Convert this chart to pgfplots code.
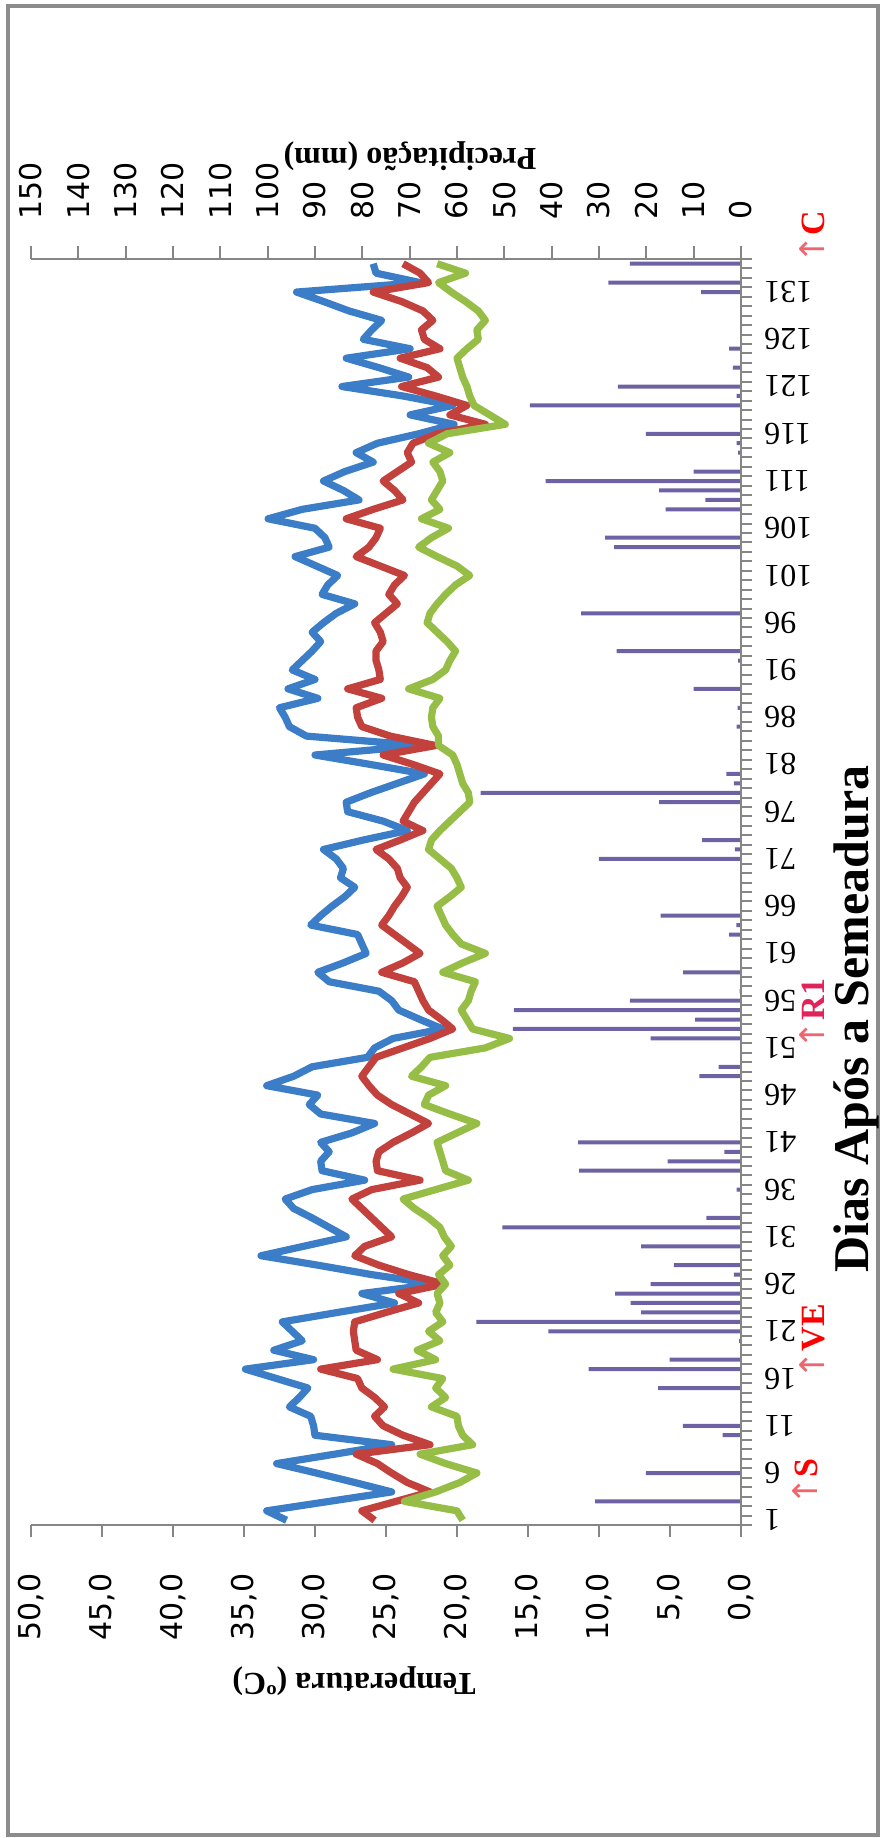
\documentclass[border=0pt]{standalone}
\usepackage{fontspec}
\setmainfont{Liberation Serif}
\newfontfamily\dejavu{DejaVu Sans}
\usepackage{pgfplots}
\usepackage{pgfplotstable}
\pgfplotsset{compat=1.18}
\definecolor{tmaxc}{RGB}{60,125,200}
\definecolor{tmeanc}{RGB}{195,65,60}
\definecolor{tminc}{RGB}{150,190,70}
\definecolor{rainc}{RGB}{110,98,165}
\definecolor{axisc}{RGB}{134,134,134}
\definecolor{framec}{RGB}{140,140,140}
\definecolor{arrowc}{RGB}{240,100,110}
\definecolor{r1c}{RGB}{225,35,90}

\pgfplotstableread{
day tmax tmean tmin
1 32.0 25.8 19.6
2 33.4 26.7 20.0
3 29.0 24.3 23.7
4 24.6 21.9 21.5
5 27.2 23.5 19.8
6 29.9 24.6 18.6
7 32.7 25.6 20.8
8 28.6 27.1 22.6
9 24.6 21.9 18.9
10 30.0 23.8 19.6
11 30.1 25.2 19.9
12 30.3 25.8 20.0
13 31.8 25.1 21.8
14 31.1 25.8 20.8
15 30.5 26.7 21.5
16 32.7 27.0 21.0
17 34.9 29.6 24.5
18 30.1 25.6 21.5
19 32.9 27.1 22.8
20 30.9 27.2 21.2
21 31.6 27.3 22.0
22 32.3 27.2 21.0
23 28.4 25.0 21.5
24 24.4 22.7 21.2
25 26.7 24.1 21.4
26 21.5 20.9 20.8
27 26.0 23.4 21.3
28 29.8 25.5 20.5
29 33.8 27.2 21.0
30 30.8 26.5 20.4
31 27.8 24.6 20.9
32 29.0 25.3 21.2
33 30.2 26.0 22.0
34 31.5 26.7 23.0
35 32.1 27.4 23.8
36 30.2 26.0 21.5
37 26.5 22.6 19.2
38 29.5 25.6 20.8
39 29.6 25.7 21.0
40 29.0 25.5 21.2
41 29.6 24.5 21.4
42 27.4 23.2 20.0
43 25.8 22.0 18.6
44 29.6 23.3 20.5
45 30.4 24.6 22.3
46 29.8 25.6 22.0
47 33.4 26.2 20.8
48 31.5 26.7 23.2
49 30.2 26.2 22.5
50 26.3 25.7 21.9
51 25.8 23.8 18.0
52 24.5 21.9 16.3
53 21.0 20.3 18.9
54 22.6 21.1 19.3
55 24.1 22.0 19.7
56 24.6 22.4 19.2
57 25.5 22.7 19.0
58 29.0 23.0 18.7
59 29.8 25.3 21.0
60 28.0 23.8 19.6
61 26.4 22.6 18.0
62 26.7 23.5 19.7
63 27.0 24.4 20.3
64 30.3 25.3 20.8
65 29.6 24.8 21.1
66 28.8 24.4 21.4
67 27.9 23.9 20.5
68 27.2 23.5 19.7
69 28.2 24.0 20.0
70 28.0 24.2 20.4
71 28.5 24.8 21.2
72 29.4 25.7 22.0
73 26.6 24.0 21.8
74 23.5 22.4 21.2
75 25.2 23.8 20.5
76 27.7 23.4 19.8
77 27.8 23.0 19.1
78 26.1 22.4 19.2
79 24.2 21.8 19.6
80 22.3 21.2 19.8
81 26.1 23.1 20.0
82 30.0 25.2 20.3
83 22.5 21.5 21.3
84 30.6 24.7 21.3
85 31.8 26.7 21.7
86 32.1 27.0 21.8
87 32.5 27.1 21.7
88 29.8 25.3 21.2
89 31.9 27.7 23.4
90 30.0 25.4 21.7
91 31.6 25.5 20.8
92 30.9 25.7 20.5
93 30.2 25.7 20.1
94 29.6 25.2 20.7
95 30.2 25.4 21.4
96 29.4 25.8 22.1
97 28.5 25.0 21.9
98 27.2 24.2 21.4
99 29.5 24.8 20.8
100 29.1 24.4 20.1
101 28.4 23.7 19.1
102 29.9 25.4 20.0
103 31.4 27.1 21.4
104 29.0 26.2 22.7
105 29.3 25.7 21.8
106 30.0 25.4 20.6
107 33.3 27.8 22.5
108 30.9 25.9 21.2
109 26.9 23.8 21.8
110 28.0 24.4 21.4
111 29.4 25.2 21.0
112 27.9 24.2 21.2
113 25.9 23.2 21.7
114 27.1 23.5 20.5
115 25.6 23.1 22.0
116 22.7 21.4 20.7
117 20.2 18.0 16.6
118 23.3 20.5 17.7
119 20.3 19.3 18.8
120 23.8 21.5 19.1
121 28.1 23.9 19.3
122 23.4 21.3 19.6
123 25.5 22.1 19.8
124 27.8 24.0 20.0
125 23.3 21.2 19.3
126 26.6 22.3 18.5
127 26.0 22.5 18.6
128 25.3 21.7 18.0
129 27.6 22.4 18.5
130 29.4 23.9 19.4
131 31.3 25.9 20.4
132 22.6 22.0 21.3
133 25.7 22.6 19.4
134 25.9 23.8 21.4
}\temps

\pgfplotstableread{
day p
3 30.8
6 20.1
10 3.9
11 12.3
15 17.5
17 32.2
18 15.1
20 0.4
21 40.7
22 55.9
23 21.1
24 23.3
25 26.6
26 19.1
27 1.5
28 14.2
30 21.1
32 50.4
33 7.3
36 0.9
38 34.2
39 15.5
40 3.5
41 34.4
48 8.8
49 4.7
52 19.1
53 48.2
54 9.7
55 48.0
56 23.5
57 0.3
59 12.2
63 2.5
64 1.0
65 17.0
71 30.0
72 1.3
73 8.2
77 17.3
78 55.0
79 1.5
80 3.1
85 0.9
87 0.7
89 10.0
92 0.6
93 26.3
97 33.8
104 26.8
105 28.7
108 15.9
109 7.5
110 17.3
111 41.3
112 10.0
114 0.6
115 0.9
116 20.1
119 44.6
120 0.9
121 26.0
123 1.7
125 2.5
131 8.4
132 28.0
134 23.5
}\rain

\begin{document}
\begin{tikzpicture}
\useasboundingbox (0,0) rectangle (440.5pt,919pt);
\draw[framec, line width=1.6pt] (4pt,1.5pt) rectangle (439pt,916pt);

\begin{axis}[
  at={(15.5pt,156.5pt)}, anchor=south west, scale only axis,
  width=355pt, height=633pt,
  xmin=0, xmax=150, x dir=reverse, ymin=0.5, ymax=134.5,
  axis x line*=top, axis y line=none,
  xtick={0,10,...,150},
  tick align=outside, major tick length=6.5pt,
  /pgf/number format/assume math mode=true,
  xticklabel style={font=\dejavu\fontsize{15}{15}\selectfont, rotate=90, anchor=west, inner sep=0pt},
  xticklabel shift=13pt,
  axis line style={axisc, line width=1pt},
  tick style={axisc, line width=1pt},
]
\addplot[xbar, bar width=2pt, draw=none, fill=rainc] table[x=p,y=day]{\rain};
\end{axis}

\begin{axis}[
  at={(15.5pt,156.5pt)}, anchor=south west, scale only axis,
  width=355pt, height=633pt,
  xmin=0, xmax=50, x dir=reverse, ymin=0.5, ymax=134.5,
  axis x line*=bottom, axis y line*=right,
  xtick={0,5,...,50}, ytick={1,6,...,131},
  minor ytick={0.5,1.5,...,134.5},
  tick align=outside, major tick length=6pt, minor tick length=5.5pt,
  major y tick style={draw=none},
  /pgf/number format/assume math mode=true,
  xticklabel={\pgfmathprintnumber[fixed,fixed zerofill,precision=1,use comma]{\tick}},
  xticklabel style={font=\dejavu\fontsize{15}{15}\selectfont, rotate=90, anchor=east, inner sep=0pt},
  xticklabel shift=18pt,
  yticklabel style={font=\fontsize{16}{16}\selectfont, rotate=180, anchor=east, inner sep=0pt},
  yticklabel shift=5.5pt,
  axis line style={axisc, line width=1pt},
  tick style={axisc, line width=1pt},
]
\addplot[tmaxc, line width=3.6pt, line join=round] table[x=tmax,y=day]{\temps};
\addplot[tmeanc, line width=3.6pt, line join=round] table[x=tmean,y=day]{\temps};
\addplot[tminc, line width=3.6pt, line join=round] table[x=tmin,y=day]{\temps};
\end{axis}

\node[rotate=180, font=\bfseries\fontsize{16}{16}\selectfont] at (205pt,841pt) {Precipitação (mm)};
\node[rotate=180, font=\bfseries\fontsize{16}{16}\selectfont] at (177pt,78.5pt) {Temperatura (ºC)};
\node[rotate=90, anchor=base, font=\bfseries\fontsize{25}{25}\selectfont] at (434pt,409.5pt) {Dias Após a Semeadura};

\node[rotate=90, font=\bfseries\fontsize{17}{17}\selectfont, text=red] at (402.5pt,178pt) {{\dejavu\mdseries\color{arrowc}↑}S};
\node[rotate=90, font=\bfseries\fontsize{17}{17}\selectfont, text=red] at (406pt,248pt) {{\dejavu\mdseries\color{arrowc}↑}VE};
\node[rotate=90, font=\bfseries\fontsize{17}{17}\selectfont, text=r1c] at (406pt,412pt) {{\dejavu\mdseries\color{arrowc}↑}R1};
\node[rotate=90, font=\bfseries\fontsize{17}{17}\selectfont, text=red] at (406pt,800.5pt) {{\dejavu\mdseries\color{arrowc}↑}C};
\end{tikzpicture}
\end{document}
